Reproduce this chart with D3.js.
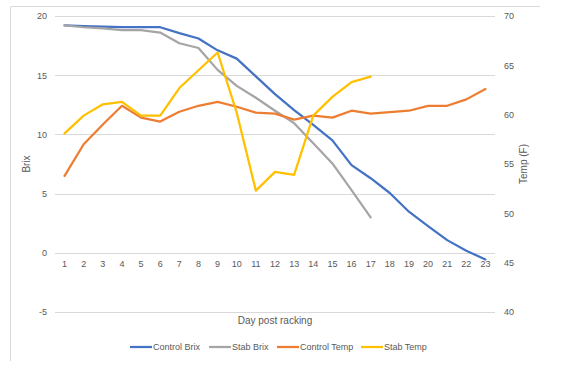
<!DOCTYPE html>
<html>
<head>
<meta charset="utf-8">
<script src="https://cdn.jsdelivr.net/npm/d3@7"></script>
<style>
  body { margin: 0; background: #fff; }
  text { font-family: "Liberation Sans", Arial, sans-serif; fill: #595959; }
</style>
</head>
<body>
<div id="chart"></div>
<script>
var days = d3.range(1, 24).map(String);
var controlBrix = [19.2, 19.15, 19.1, 19.05, 19.05, 19.05, 18.55, 18.1, 17.1, 16.4, 14.9, 13.4, 12.05, 10.8, 9.5, 7.4, 6.3, 5.05, 3.47, 2.26, 1.07, 0.17, -0.56];
var stabBrix = [19.2, 19.05, 18.95, 18.8, 18.8, 18.6, 17.7, 17.3, 15.45, 14.1, 13.1, 12.0, 10.95, 9.25, 7.55, 5.3, 3.0];
var controlTemp = [53.8, 57.0, 59.0, 60.9, 59.7, 59.3, 60.3, 60.9, 61.3, 60.8, 60.2, 60.1, 59.5, 59.9, 59.7, 60.4, 60.1, 60.25, 60.4, 60.9, 60.9, 61.55, 62.6];
var stabTemp = [58.1, 59.9, 61.05, 61.3, 59.9, 59.9, 62.7, 64.5, 66.3, 60.2, 52.3, 54.2, 53.9, 59.9, 61.8, 63.3, 63.85];
var brixTicks = [-5, 0, 5, 10, 15, 20];
var tempTicks = [40, 45, 50, 55, 60, 65, 70];

var series = [
  {name: "Control Brix", values: controlBrix, axis: "left", color: "#4472C4"},
  {name: "Stab Brix", values: stabBrix, axis: "left", color: "#A5A5A5"},
  {name: "Control Temp", values: controlTemp, axis: "right", color: "#ED7D31"},
  {name: "Stab Temp", values: stabTemp, axis: "right", color: "#FFC000"}
];

var width = 562, height = 372;
var plotL = 55, plotR = 495, plotT = 16, plotB = 312;

var svg = d3.select("#chart").append("svg")
  .attr("width", width)
  .attr("height", height);

// chart border (top + left only visible)
svg.append("path")
  .attr("d", "M10.5,361 V6.5 H540")
  .attr("fill", "none")
  .attr("stroke", "#d9d9d9")
  .attr("stroke-width", 1);

var x = d3.scaleBand().domain(days).range([plotL, plotR]);
var yL = d3.scaleLinear().domain([-5, 20]).range([plotB, plotT]);
var yR = d3.scaleLinear().domain([40, 70]).range([plotB, plotT]);

// gridlines
svg.append("g")
  .selectAll("line")
  .data(brixTicks)
  .enter().append("line")
  .attr("x1", plotL).attr("x2", plotR)
  .attr("y1", d => Math.round(yL(d)) + 0.5)
  .attr("y2", d => Math.round(yL(d)) + 0.5)
  .attr("stroke", "#d9d9d9")
  .attr("stroke-width", 1);

// left axis (plain hyphen for negatives, like excel)
var axL = svg.append("g")
  .attr("transform", "translate(" + (plotL - 8) + ",0)")
  .call(d3.axisLeft(yL).tickValues(brixTicks).tickFormat(d => String(d)).tickSize(0).tickPadding(0));
axL.select(".domain").remove();
axL.selectAll("text").style("font-size", "9px").style("fill", "#595959");

// right axis
var axR = svg.append("g")
  .attr("transform", "translate(" + (plotR + 9) + ",0)")
  .call(d3.axisRight(yR).tickValues(tempTicks).tickSize(0).tickPadding(0));
axR.select(".domain").remove();
axR.selectAll("text").style("font-size", "9px").style("fill", "#595959");

// x axis labels at zero line
var axX = svg.append("g")
  .attr("transform", "translate(0," + (yL(0) + 8) + ")")
  .call(d3.axisBottom(x).tickSize(0).tickPadding(0));
axX.select(".domain").remove();
axX.selectAll("text").style("font-size", "9px").style("fill", "#595959");

// axis titles
svg.append("text")
  .attr("transform", "translate(30," + (plotT + plotB) / 2 + ") rotate(-90)")
  .attr("text-anchor", "middle")
  .style("font-size", "10px")
  .text("Brix");

svg.append("text")
  .attr("transform", "translate(527," + (plotT + plotB) / 2 + ") rotate(-90)")
  .attr("text-anchor", "middle")
  .style("font-size", "10px")
  .text("Temp (F)");

svg.append("text")
  .attr("x", (plotL + plotR) / 2)
  .attr("y", 324)
  .attr("text-anchor", "middle")
  .style("font-size", "10px")
  .text("Day post racking");

// lines
series.forEach(function(s) {
  var yS = s.axis === "left" ? yL : yR;
  var line = d3.line()
    .x((d, i) => x(days[i]) + x.bandwidth() / 2)
    .y(d => yS(d));
  svg.append("path")
    .datum(s.values)
    .attr("d", line)
    .attr("fill", "none")
    .attr("stroke", s.color)
    .attr("stroke-width", 2.25)
    .attr("stroke-linejoin", "round")
    .attr("stroke-linecap", "round");
});

// legend
var legendX = [130, 209, 277, 361];
var legend = svg.append("g");
series.forEach(function(s, i) {
  var g = legend.append("g").attr("transform", "translate(" + legendX[i] + ",347)");
  g.append("line")
    .attr("x1", 0).attr("x2", 22)
    .attr("stroke", s.color)
    .attr("stroke-width", 2.25);
  g.append("text")
    .attr("x", 23)
    .attr("y", 3)
    .style("font-size", "9px")
    .text(s.name);
});
</script>
</body>
</html>
